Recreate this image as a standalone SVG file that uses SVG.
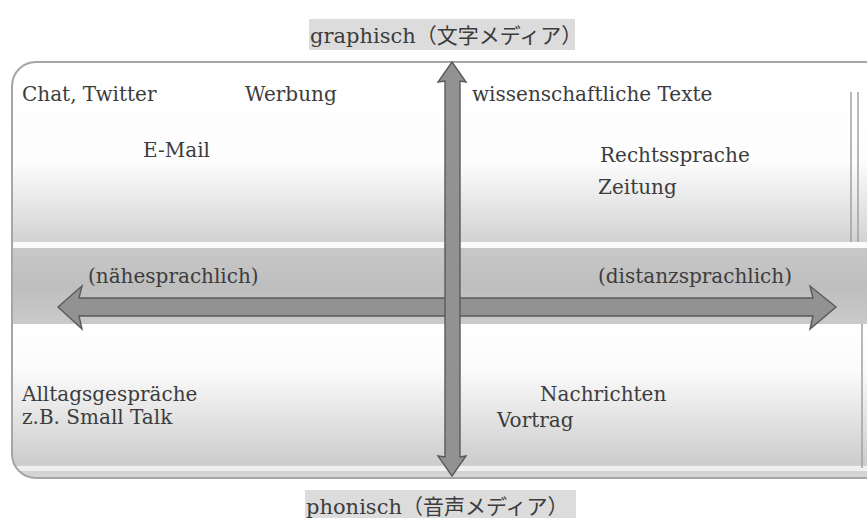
<svg xmlns="http://www.w3.org/2000/svg" width="867" height="518" viewBox="0 0 867 518">
<defs>
<linearGradient id="gTop" x1="0" y1="0" x2="0" y2="1">
<stop offset="0" stop-color="#ffffff"/>
<stop offset="0.55" stop-color="#fdfdfd"/>
<stop offset="1" stop-color="#d2d2d2"/>
</linearGradient>
<linearGradient id="gBand" x1="0" y1="0" x2="0" y2="1">
<stop offset="0" stop-color="#c8c8c8"/>
<stop offset="0.5" stop-color="#bebebe"/>
<stop offset="1" stop-color="#cacaca"/>
</linearGradient>
<linearGradient id="gBot" x1="0" y1="0" x2="0" y2="1">
<stop offset="0" stop-color="#ffffff"/>
<stop offset="0.3" stop-color="#fbfbfb"/>
<stop offset="0.9" stop-color="#cdcdcd"/>
<stop offset="1" stop-color="#d6d6d6"/>
</linearGradient>
<clipPath id="boxClip"><rect x="12" y="62" width="880" height="416" rx="24"/></clipPath>
</defs>
<style>
.t{font-family:"DejaVu Serif","Liberation Serif",serif;font-size:20px;fill:#3c3c3c}
.j{font-family:"DejaVu Serif","Noto Sans CJK JP",serif;font-size:21px;fill:#3c3c3c}
.arrow{fill:#929292;stroke:#5a5a5a;stroke-width:1.4;stroke-linejoin:miter}
</style>
<rect width="867" height="518" fill="#ffffff"/>
<g id="label-graphisch">
<rect x="309" y="19" width="266" height="31" fill="#dcdcdc"/>
<text class="j" x="310" y="43">graphisch（文字メディア）</text>
</g>
<g id="frame">
<g clip-path="url(#boxClip)">
<rect x="12" y="62" width="880" height="180" fill="url(#gTop)"/>
<rect x="12" y="242" width="880" height="6" fill="#fafafa"/>
<rect x="12" y="248" width="880" height="76" fill="url(#gBand)"/>
<rect x="12" y="324" width="880" height="154" fill="url(#gBot)"/>
<rect x="12" y="466" width="880" height="5" fill="#f0f0f0"/>
</g>
<rect x="12" y="62" width="880" height="416" rx="24" fill="none" stroke="#a6a6a6" stroke-width="2"/>
<line x1="851" y1="92" x2="851" y2="242" stroke="#a0a0a0" stroke-width="1.5"/>
<line x1="858" y1="92" x2="858" y2="242" stroke="#a0a0a0" stroke-width="1.5"/>
<line x1="862" y1="324" x2="862" y2="468" stroke="#a0a0a0" stroke-width="1.5"/>
</g>
<g id="quadrant-texts">
<text class="t" x="22" y="101">Chat, Twitter</text>
<text class="t" x="245" y="101">Werbung</text>
<text class="t" x="472" y="101">wissenschaftliche Texte</text>
<text class="t" x="143" y="157">E-Mail</text>
<text class="t" x="600" y="162">Rechtssprache</text>
<text class="t" x="598" y="194">Zeitung</text>
<text class="t" x="88" y="283">(nähesprachlich)</text>
<text class="t" x="598" y="283">(distanzsprachlich)</text>
<text class="t" x="22" y="401">Alltagsgespräche</text>
<text class="t" x="22" y="424">z.B. Small Talk</text>
<text class="t" x="540" y="401">Nachrichten</text>
<text class="t" x="497" y="427">Vortrag</text>
</g>
<g id="connectors">
<path class="arrow" d="M58,307 L82,286 L79,298 L813,298 L810,286 L836,307 L810,329 L813,316 L79,316 L82,329 Z"/>
<path class="arrow" d="M452,62 L466,82 L460,81 L460,457 L466,456 L452,476 L438,456 L445,457 L445,81 L438,82 Z"/>
</g>
<g id="label-phonisch">
<rect x="305" y="490" width="271" height="28" fill="#dcdcdc"/>
<text class="j" x="306" y="514">phonisch（音声メディア）</text>
</g>
</svg>
